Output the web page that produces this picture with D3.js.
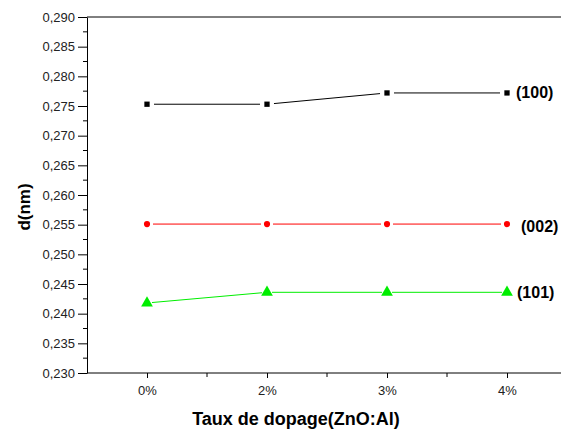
<!DOCTYPE html>
<html>
<head>
<meta charset="utf-8">
<script src="https://cdn.jsdelivr.net/npm/d3@7"></script>
<style>
  body { margin: 0; background: #fff; }
  svg { font-family: "Liberation Sans", Arial, sans-serif; }
</style>
</head>
<body>
<svg id="chart"></svg>
<script>
// doping rates and interplanar distances
const categories = ["0%", "2%", "3%", "4%"];
const d100 = [0.2753, 0.2753, 0.2772, 0.2772];
const d002 = [0.2551, 0.2551, 0.2551, 0.2551];
const d101 = [0.2418, 0.2436, 0.2436, 0.2436];
const yTicks = [0.230, 0.235, 0.240, 0.245, 0.250, 0.255, 0.260, 0.265, 0.270, 0.275, 0.280, 0.285, 0.290];

const W = 561, H = 430;
const mLeft = 87, mTop = 17, mBottom = 373;
const step = 120;

const svg = d3.select("#chart").attr("width", W).attr("height", H);

// x positions: half a step of padding before the first category
const x = d3.scalePoint()
    .domain(categories)
    .range([mLeft + step / 2, mLeft + step / 2 + step * (categories.length - 1)]);

const y = d3.scaleLinear()
    .domain([0.230, 0.290])
    .range([mBottom, mTop]);

const fmt = d => d3.format(".3f")(d).replace(".", ",");

// frame: top line and bottom axis run off the right edge
svg.append("line")
    .attr("x1", mLeft).attr("x2", W + 5)
    .attr("y1", mTop).attr("y2", mTop)
    .attr("stroke", "#000").attr("stroke-width", 1);

// y axis with major ticks
let yAxis = d3.axisLeft(y)
    .tickValues(yTicks)
    .tickFormat(fmt)
    .tickSizeInner(9)
    .tickSizeOuter(0)
    .tickPadding(3);

let gy = svg.append("g")
    .attr("transform", `translate(${mLeft},0)`)
    .call(yAxis);
gy.select(".domain").attr("stroke", "#000");
gy.selectAll("text").attr("font-size", "13px").attr("fill", "#222");

// minor ticks on y
let yMinor = d3.range(0.2325, 0.290, 0.005);
svg.append("g")
    .selectAll("line")
    .data(yMinor)
    .enter()
    .append("line")
    .attr("x1", mLeft - 4).attr("x2", mLeft)
    .attr("y1", d => y(d)).attr("y2", d => y(d))
    .attr("stroke", "#000");

// x axis
let xAxis = d3.axisBottom(x)
    .tickSizeInner(5)
    .tickSizeOuter(0)
    .tickPadding(8);

let gx = svg.append("g")
    .attr("transform", `translate(0,${mBottom})`)
    .call(xAxis);
gx.select(".domain").remove();
gx.selectAll("text").attr("font-size", "13px").attr("fill", "#222");
gx.append("line")
    .attr("x1", mLeft).attr("x2", W + 5)
    .attr("stroke", "#000");

// minor ticks on x, between categories
let xMinor = d3.range(categories.length).map(i => x(categories[i]) + step / 2);
svg.append("g")
    .selectAll("line")
    .data(xMinor)
    .enter()
    .append("line")
    .attr("x1", d => d).attr("x2", d => d)
    .attr("y1", mBottom).attr("y2", mBottom + 4)
    .attr("stroke", "#000");

// line segments with gaps around the markers
function drawSeries(vals, color, gap, marker, label, dx, dy) {
    let pts = vals.map((v, i) => [x(categories[i]), y(v)]);
    let segs = d3.pairs(pts).map(([a, b]) => {
        let len = Math.hypot(b[0] - a[0], b[1] - a[1]);
        let ux = (b[0] - a[0]) / len, uy = (b[1] - a[1]) / len;
        return [[a[0] + ux * gap, a[1] + uy * gap], [b[0] - ux * gap, b[1] - uy * gap]];
    });
    svg.append("g")
        .selectAll("path")
        .data(segs)
        .enter()
        .append("path")
        .attr("d", d3.line())
        .attr("stroke", color)
        .attr("stroke-width", 1)
        .attr("fill", "none");

    svg.append("g")
        .selectAll("path")
        .data(pts)
        .enter()
        .append("path")
        .attr("d", d3.symbol().type(marker.type).size(marker.size))
        .attr("transform", d => `translate(${d[0]},${d[1]})`)
        .attr("fill", color);

    let last = pts[pts.length - 1];
    svg.append("text")
        .attr("x", last[0] + dx)
        .attr("y", last[1] + dy)
        .attr("dy", "0.35em")
        .attr("font-size", "16px")
        .attr("font-weight", "bold")
        .text(label);
}

drawSeries(d100, "#000", 7, { type: d3.symbolSquare, size: 28 }, "(100)", 9, -1);
drawSeries(d002, "#ff0000", 6, { type: d3.symbolCircle, size: 30 }, "(002)", 14, 2);
drawSeries(d101, "#00ee00", 5, { type: d3.symbolTriangle, size: 60 }, "(101)", 10, 0);

// axis titles
svg.append("text")
    .attr("x", 296)
    .attr("y", 425)
    .attr("text-anchor", "middle")
    .attr("font-size", "18px")
    .attr("font-weight", "bold")
    .text("Taux de dopage(ZnO:Al)");

svg.append("text")
    .attr("transform", "translate(30,207) rotate(-90)")
    .attr("text-anchor", "middle")
    .attr("font-size", "17px")
    .attr("font-weight", "bold")
    .text("d(nm)");
</script>
</body>
</html>
